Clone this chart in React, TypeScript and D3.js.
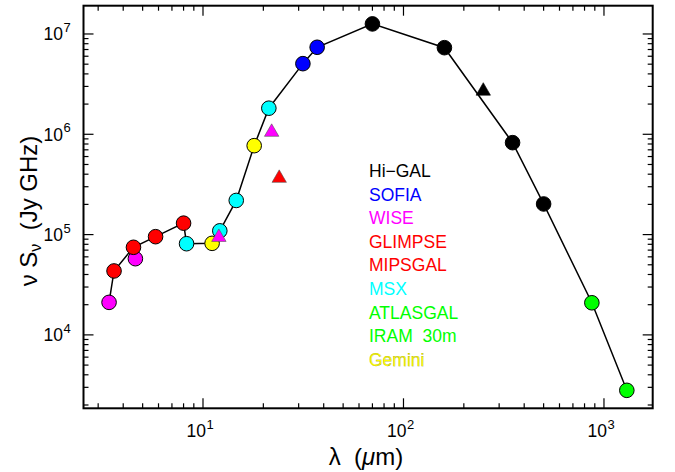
import React from "react";
import * as d3 from "d3";

// ---- data (wavelength in micron, nu*S_nu in Jy GHz) ----
const hiGalWl = [70, 160, 350, 500];
const hiGalFlux = [1.26e7, 7.3e6, 8.25e5, 2.02e5];
const hiGalTriWl = [250];
const hiGalTriFlux = [2.7e6];
const sofiaWl = [31.5, 37.1];
const sofiaFlux = [5.06e6, 7.37e6];
const wiseWl = [3.4, 4.6];
const wiseFlux = [2.11e4, 5.75e4];
const wiseTriWl = [12, 22];
const wiseTriFlux = [9.4e4, 1.05e6];
const glimpseWl = [3.6, 4.5, 5.8, 8.0];
const glimpseFlux = [4.34e4, 7.47e4, 9.53e4, 1.3e5];
const mipsgalTriWl = [24];
const mipsgalTriFlux = [3.65e5];
const msxWl = [8.28, 12.13, 14.65, 21.3];
const msxFlux = [8.11e4, 1.09e5, 2.19e5, 1.82e6];
const atlasgalWl = [870];
const atlasgalFlux = [2.09e4];
const iramWl = [1300];
const iramFlux = [2.8e3];
const geminiWl = [11.1, 18.0];
const geminiFlux = [8.18e4, 7.7e5];
const lineExclude = [4.6];

const legendLabels = ["Hi\u2212GAL", "SOFIA", "WISE", "GLIMPSE", "MIPSGAL", "MSX", "ATLASGAL", "IRAM  30m", "Gemini"];
const legendColors = ["#000000", "#0000ff", "#ff00ff", "#ff0000", "#ff0000", "#00ffff", "#00ff00", "#00ff00", "#ffff00"];
const xTickExp = [1, 2, 3];
const yTickExp = [4, 5, 6, 7];

const W = 675, H = 472;
const L = 83.5, R = 652.7, T = 5.7, B = 408.3;

export default function App() {
  const x = d3.scaleLog().domain([2.535, 1750]).range([L, R]);
  const y = d3.scaleLog().domain([1854, 1.914e7]).range([B, T]);

  const circleSets = [
    { wl: hiGalWl, f: hiGalFlux, c: "#000000" },
    { wl: sofiaWl, f: sofiaFlux, c: "#0000ff" },
    { wl: msxWl, f: msxFlux, c: "#00ffff" },
    { wl: wiseWl, f: wiseFlux, c: "#ff00ff" },
    { wl: glimpseWl, f: glimpseFlux, c: "#ff0000" },
    { wl: atlasgalWl, f: atlasgalFlux, c: "#00ff00" },
    { wl: iramWl, f: iramFlux, c: "#00ff00" },
    { wl: geminiWl, f: geminiFlux, c: "#ffff00" },
  ];
  const triSets = [
    { wl: hiGalTriWl, f: hiGalTriFlux, c: "#000000" },
    { wl: wiseTriWl, f: wiseTriFlux, c: "#ff00ff" },
    { wl: mipsgalTriWl, f: mipsgalTriFlux, c: "#ff0000" },
  ];

  const linePts: [number, number][] = [];
  circleSets.forEach((s) =>
    s.wl.forEach((w, i) => {
      if (!lineExclude.includes(w)) linePts.push([w, s.f[i]]);
    })
  );
  linePts.sort((a, b) => a[0] - b[0]);
  const lineGen = d3
    .line<[number, number]>()
    .x((d) => x(d[0]))
    .y((d) => y(d[1]));

  const tri = d3.symbol().type(d3.symbolTriangle).size(90)();

  const xTicks: { v: number; major: boolean }[] = [];
  for (let e = 0; e <= 3; e++)
    for (let m = 1; m <= 9; m++) {
      const v = m * Math.pow(10, e);
      if (v >= 2.535 && v <= 1750) xTicks.push({ v, major: m === 1 });
    }
  const yTicks: { v: number; major: boolean }[] = [];
  for (let e = 3; e <= 7; e++)
    for (let m = 1; m <= 9; m++) {
      const v = m * Math.pow(10, e);
      if (v >= 1854 && v <= 1.914e7) yTicks.push({ v, major: m === 1 });
    }

  const font = "'Liberation Sans', Arial, sans-serif";
  const narrow = "'Liberation Sans Narrow', 'Liberation Sans', Arial, sans-serif";

  return (
    <svg
      width={W}
      height={H}
      style={{ position: "absolute", left: 0, top: 0, background: "#fff" }}
      fontFamily={font}
    >
      <rect x={0} y={0} width={W} height={H} fill="#fff" />
      <g stroke="#000" strokeWidth={1.2}>
        {xTicks.map((t, i) => {
          const len = t.major ? 10 : 5;
          const px = x(t.v);
          return (
            <g key={"xt" + i}>
              <line x1={px} x2={px} y1={B} y2={B - len} />
              <line x1={px} x2={px} y1={T} y2={T + len} />
            </g>
          );
        })}
        {yTicks.map((t, i) => {
          const len = t.major ? 10 : 5;
          const py = y(t.v);
          return (
            <g key={"yt" + i}>
              <line x1={L} x2={L + len} y1={py} y2={py} />
              <line x1={R} x2={R - len} y1={py} y2={py} />
            </g>
          );
        })}
      </g>
      <rect x={L} y={T} width={R - L} height={B - T} fill="none" stroke="#000" strokeWidth={2} />

      {xTickExp.map((e) => {
        const px = x(Math.pow(10, e));
        return (
          <g key={"xl" + e} fontFamily={narrow}>
            <text x={px + 3} y={B + 28.5} fontSize={17.5} textAnchor="end">10</text>
            <text x={px + 3.5} y={B + 20.5} fontSize={13}>{e}</text>
          </g>
        );
      })}
      {yTickExp.map((e) => {
        const py = y(Math.pow(10, e));
        return (
          <g key={"yl" + e} fontFamily={narrow}>
            <text x={63} y={py + 6.5} fontSize={17.5} textAnchor="end">10</text>
            <text x={63.5} y={py - 2} fontSize={13}>{e}</text>
          </g>
        );
      })}

      <text x={366} y={465} fontSize={24} textAnchor="middle" style={{ whiteSpace: "pre" }}>
        {"\u03bb  ("}
        <tspan fontStyle="italic">{"\u03bc"}</tspan>
        {"m)"}
      </text>
      <text
        transform="translate(37,211) rotate(-90)"
        fontSize={24}
        textAnchor="middle"
        style={{ whiteSpace: "pre" }}
      >
        {"\u03bd S"}
        <tspan fontSize={16} dy={4}>{"\u03bd"}</tspan>
        <tspan dy={-4}>{"  (Jy GHz)"}</tspan>
      </text>

      <path d={lineGen(linePts) || ""} fill="none" stroke="#000" strokeWidth={1.5} />

      {circleSets.map((s, si) =>
        s.wl.map((w, i) => (
          <circle
            key={"c" + si + "_" + i}
            cx={x(w)}
            cy={y(s.f[i])}
            r={7.3}
            fill={s.c}
            stroke="#000"
            strokeWidth={1}
          />
        ))
      )}
      {triSets.map((s, si) =>
        s.wl.map((w, i) => (
          <path
            key={"t" + si + "_" + i}
            d={tri || ""}
            transform={`translate(${x(w)},${y(s.f[i])})`}
            fill={s.c}
            stroke={s.c === "#000000" ? "#000" : "#555"}
            strokeWidth={0.6}
          />
        ))
      )}

      {legendLabels.map((lab, i) => (
        <text
          key={"lg" + i}
          x={369}
          y={177 + i * 23.6}
          fontSize={17.5}
          fill={legendColors[i]}
          stroke={lab === "Gemini" ? "#8a8a00" : "none"}
          strokeWidth={lab === "Gemini" ? 0.25 : 0}
          style={{ whiteSpace: "pre" }}
        >
          {lab}
        </text>
      ))}
    </svg>
  );
}
